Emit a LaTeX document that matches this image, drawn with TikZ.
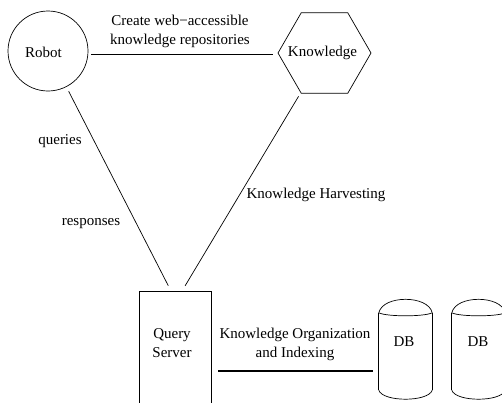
\documentclass[tikz,border=0pt]{standalone}
\usepackage{fontspec}
\setmainfont{Liberation Serif}
\usetikzlibrary{shapes.geometric}
\begin{document}
\begin{tikzpicture}[x=1pt,y=-1pt,
  every node/.style={font=\fontsize{15}{19}\selectfont, inner sep=0pt},
  conn/.style={draw=black, line width=0.7pt},
  boxline/.style={draw=black, line width=0.7pt},
  dbbody/.style={rectangle, minimum width=53pt, minimum height=77pt, inner sep=0pt},
  dbline/.style={draw=black, line width=0.7pt},
  lbl/.style={align=center}]
\useasboundingbox (0,0) rectangle (502,402);
\clip (0,0) rectangle (502,402);
% nodes
\node[circle, boxline, minimum size=80pt] (R) at (48,51) {};
\node (Rt) at (43.5,52) {Robot};
\node[regular polygon, regular polygon sides=6, boxline, minimum size=93pt] (K) at (324.5,53) {};
\node (Kt) at (322.5,53) {Knowledge};
\node[rectangle, boxline, minimum width=72pt, minimum height=150pt, anchor=north] (Q) at (175,291) {};
\node[lbl] (Qt) at (172,343) {Query\\Server};
\node[dbbody] (D1) at (405.5,351.5) {};
\node (D1t) at (404,342) {DB};
\node[dbbody] (D2) at (478.5,351.5) {};
\node (D2t) at (478,342) {DB};
% cylinders
\foreach \d in {D1,D2}{
  \draw[dbline] (\d.north west) .. controls +(4,-18) and +(-4,-18) .. (\d.north east);
  \draw[dbline] (\d.north west) .. controls +(8,4) and +(-8,4) .. (\d.north east);
  \draw[dbline] (\d.north west) -- (\d.south west);
  \draw[dbline] (\d.north east) -- (\d.south east);
  \draw[dbline] (\d.south west) .. controls +(4,12) and +(-4,12) .. (\d.south east);
}
% connectors
\coordinate (top) at (0,54);
\coordinate (bot) at (0,371);
\draw[conn] ([xshift=3pt]R.east |- top) -- ([xshift=-5pt]K.west |- top);
\draw[conn, shorten <=5pt, shorten >=6pt] (R) -- ([xshift=-4pt]Q.north);
\draw[conn, shorten <=4pt, shorten >=6pt] (K) -- ([xshift=7pt]Q.north);
\draw[draw=black, line width=1.4pt] ([xshift=7pt]Q.east |- bot) -- ([xshift=-6pt]D1.west |- bot);
% labels
\node[lbl] (l1) at (180,31) {Create web−accessible\\knowledge repositories};
\node (l2) at (60,141) {queries};
\node (l3) at (91,224) {responses};
\node (l4) at (316,195) {Knowledge Harvesting};
\node[lbl] (l5) at (295,344) {Knowledge Organization\\and Indexing};
\end{tikzpicture}
\end{document}
